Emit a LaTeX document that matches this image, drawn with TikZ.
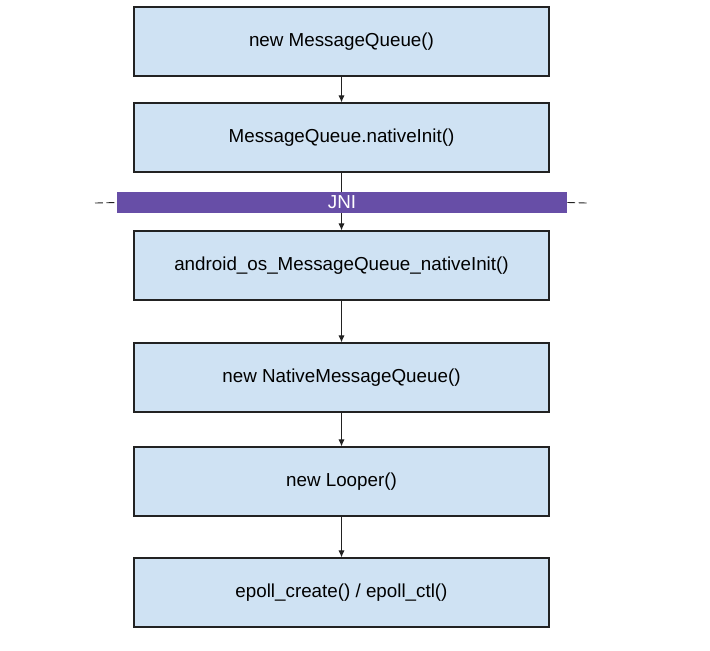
\documentclass[tikz,border=0pt]{standalone}
\usepackage{fontspec}
\setmainfont{Liberation Sans}
\usetikzlibrary{arrows.meta}

\definecolor{boxblue}{HTML}{CFE2F3}
\definecolor{jnipurple}{HTML}{674EA7}
\definecolor{edgegray}{HTML}{222222}

\tikzset{
  stepbox/.style={draw=edgegray,fill=boxblue,line width=0.7pt,minimum width=8.3cm,minimum height=1.38cm,font=\fontsize{10.7}{12}\selectfont},
  flow/.style={draw=edgegray,line width=0.5pt,-{Latex[length=4pt,width=3.5pt]}}
}

\begin{document}
\begin{tikzpicture}[x=0.02cm,y=-0.02cm]
  \useasboundingbox (0,0) rectangle (710,650);
  \node[stepbox] (q) at (341.5,41.5) {new MessageQueue()};
  \node[stepbox] (init) at (341.5,137.5) {MessageQueue.nativeInit()};
  \node[stepbox] (jinit) at (341.5,265.5) {android\_os\_MessageQueue\_nativeInit()};
  \node[stepbox] (nq) at (341.5,377.5) {new NativeMessageQueue()};
  \node[stepbox] (looper) at (341.5,481.5) {new Looper()};
  \node[stepbox] (epoll) at (341.5,592.5) {epoll\_create() / epoll\_ctl()};
  \draw[flow] (q) -- (init);
  \draw[flow] (init) -- (jinit);
  \draw[flow] (jinit) -- (nq);
  \draw[flow] (nq) -- (looper);
  \draw[flow] (looper) -- (epoll);
  \node[fill=jnipurple,text=white,minimum width=9cm,minimum height=0.42cm,inner sep=0pt,font=\fontsize{10.7}{12}\selectfont] (jni) at (342,202.5) {JNI};
  \coordinate (jl) at (95,203);
  \coordinate (jr) at (587,203);
  \draw[edgegray,dash pattern=on 4.5pt off 2pt,line width=0.5pt] (jl) -- (jni.west);
  \draw[edgegray,dash pattern=on 4.5pt off 2pt,line width=0.5pt] (jni.east) -- (jr);
\end{tikzpicture}
\end{document}
